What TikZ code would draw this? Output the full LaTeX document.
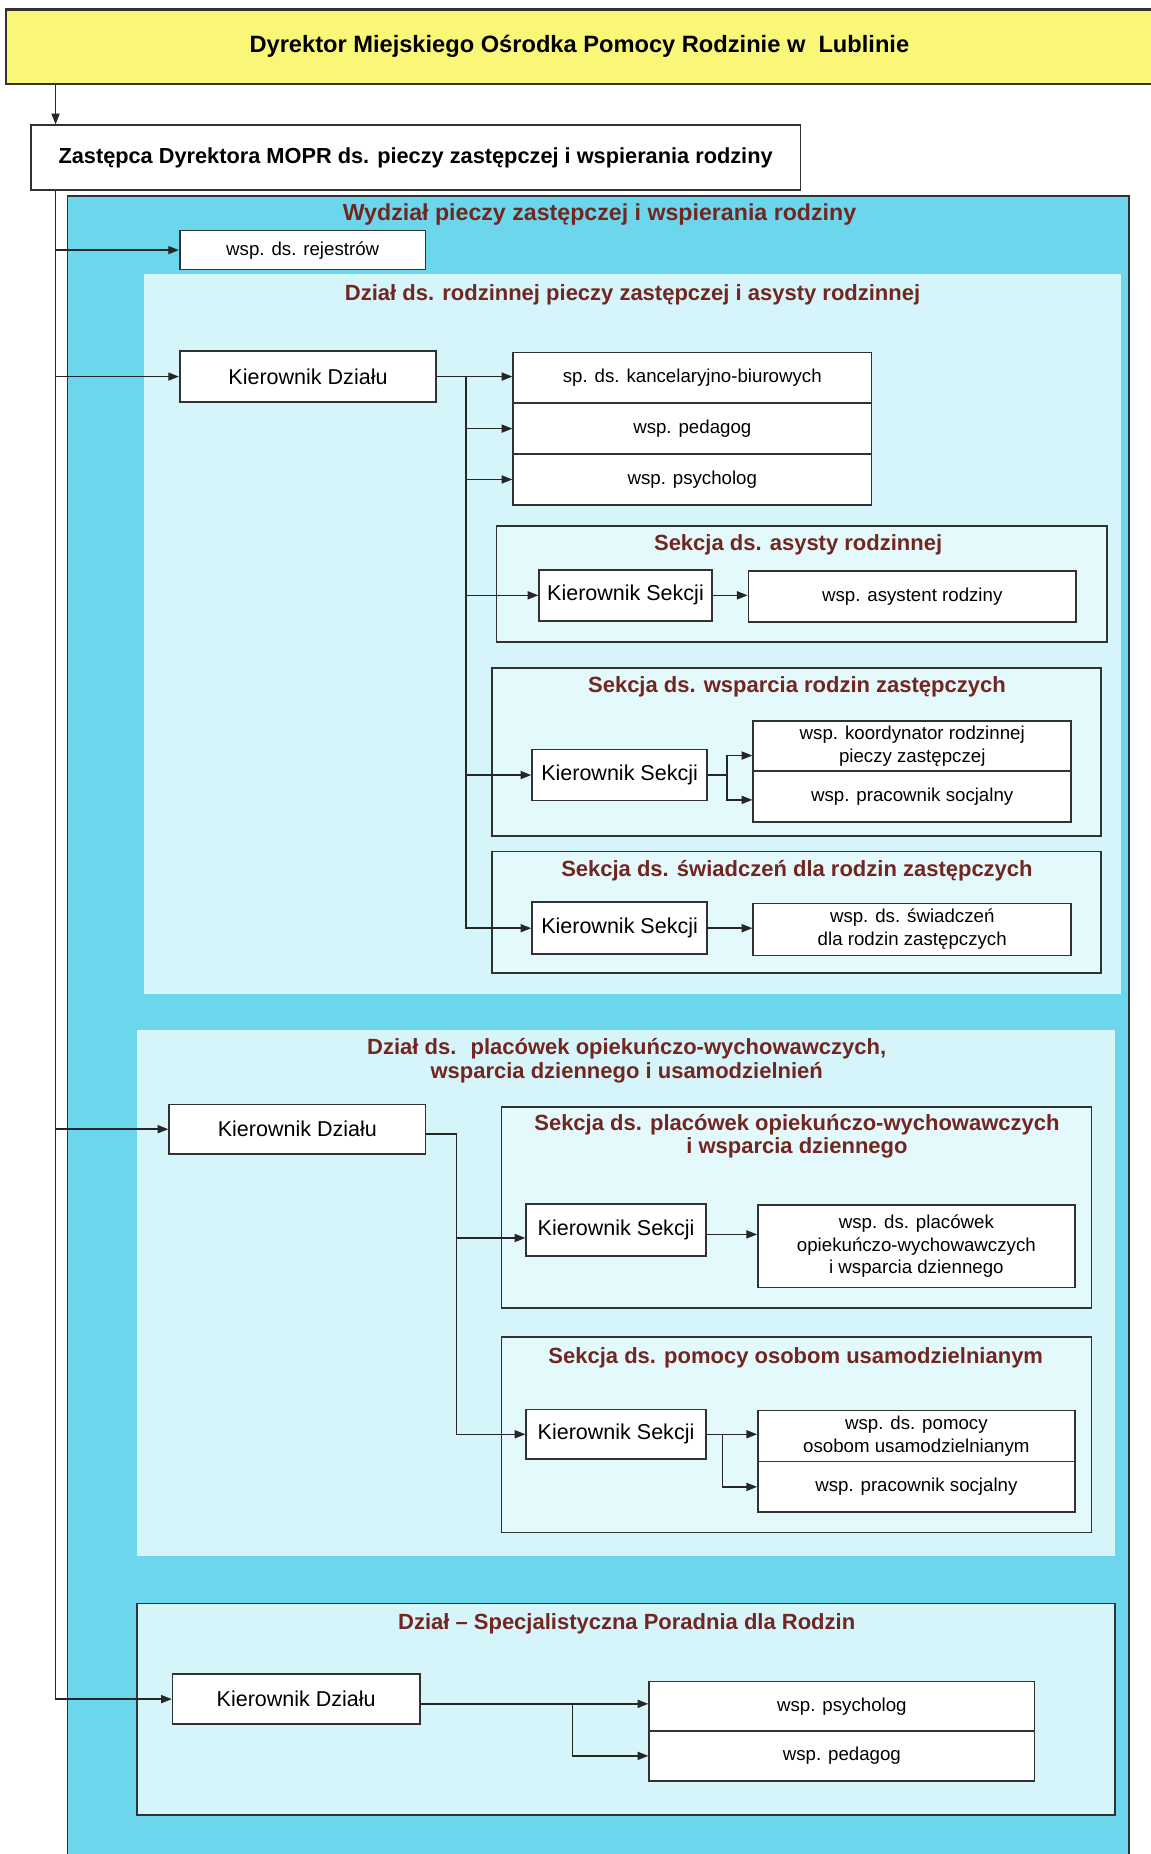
\documentclass[tikz,border=0pt]{standalone}
\usepackage{fontspec}
\setmainfont{Liberation Sans}
\usetikzlibrary{arrows.meta,fit}
\definecolor{ylw}{RGB}{250,246,120}
\definecolor{cyanbig}{RGB}{108,214,236}
\definecolor{cyanlight}{RGB}{214,245,250}
\definecolor{sectfill}{RGB}{228,249,252}
\definecolor{titlered}{RGB}{115,38,32}
\definecolor{edge}{RGB}{50,50,50}
\tikzset{
  box/.style={draw=edge, line width=0.7pt, fill=white, inner sep=0pt, align=center, text=black},
  emp/.style={box, font=\fontsize{7.9}{9.6}\selectfont},
  kier/.style={box, font=\fontsize{9.1}{11}\selectfont},
  sect/.style={draw=edge, line width=0.7pt, fill=sectfill, inner sep=0pt},
  dzial/.style={fill=cyanlight, inner sep=0pt},
  ttl/.style={text=titlered, font=\bfseries\fontsize{9.3}{9.9}\selectfont, align=center, inner sep=0pt},
  conn/.style={draw=black!85, line width=0.6pt},
  arr/.style={conn, -{Triangle[length=4.5pt,width=3.4pt]}},
  sz/.style 2 args={minimum width=#1, minimum height=#2}
}
\begin{document}
\begin{tikzpicture}[x=0.5pt,y=-0.5pt]
\useasboundingbox (0,0) rectangle (973,1568);
\fill[white] (0,0) rectangle (973,1568);
% top level
\node[box, fill=ylw, line width=0.9pt, font=\bfseries\fontsize{10}{12}\selectfont, sz={485pt}{31.5pt}] (yellow) at (490,39.5) {Dyrektor Miejskiego Ośrodka Pomocy Rodzinie w~ Lublinie};
\node[box, line width=0.8pt, font=\bfseries\fontsize{9.2}{11}\selectfont, sz={325.5pt}{27.5pt}] (zast) at (351.5,133.5) {Zastępca Dyrektora MOPR ds. pieczy zastępczej i wspierania rodziny};
% Wydzial
\node[draw=edge, line width=0.7pt, fill=cyanbig, inner sep=0pt, fit={(57,166) (955,1600)}] (wydzial) {};
\node[ttl, font=\bfseries\fontsize{9.8}{11}\selectfont] (wydzialtitle) at (507,181) {Wydział pieczy zastępczej i wspierania rodziny};
\node[emp, sz={104pt}{16.5pt}] (rej) at (256,211.5) {wsp. ds. rejestrów};
% Dzial 1
\node[dzial, fit={(122,232) (948,841)}] (dz1) {};
\node[ttl] (dz1title) at (535,249) {Dział ds. rodzinnej pieczy zastępczej i asysty rodzinnej};
\node[kier, sz={108.5pt}{21.5pt}] (kd1) at (260.5,318.5) {Kierownik Działu};
\node[emp, sz={151.5pt}{21.5pt}] (s1) at (585.5,319.5) {sp. ds. kancelaryjno-biurowych};
\node[emp, sz={151.5pt}{21.5pt}] (s2) at (585.5,362.5) {wsp. pedagog};
\node[emp, sz={151.5pt}{21.5pt}] (s3) at (585.5,405.5) {wsp. psycholog};
% Sekcja asysty
\node[sect, fit={(420,445) (936,543)}] (sa) {};
\node[ttl] (satitle) at (675,461) {Sekcja ds. asysty rodzinnej};
\node[kier, sz={73pt}{21.5pt}] (ks1) at (529,503.5) {Kierownik Sekcji};
\node[emp, sz={138.5pt}{21.5pt}] (asys) at (771.5,504.5) {wsp. asystent rodziny};
% Sekcja wsparcia
\node[sect, fit={(416,565) (931,707)}] (sw) {};
\node[ttl] (swtitle) at (674,581) {Sekcja ds. wsparcia rodzin zastępczych};
\node[kier, sz={74pt}{21.5pt}] (ks2) at (524,655.5) {Kierownik Sekcji};
\node[emp, sz={134.5pt}{21pt}] (koord) at (771.5,631) {wsp. koordynator rodzinnej\\pieczy zastępczej};
\node[emp, sz={134.5pt}{21.5pt}] (prac1) at (771.5,673.5) {wsp. pracownik socjalny};
% Sekcja swiadczen
\node[sect, fit={(416,720) (931,823)}] (ss) {};
\node[ttl] (sstitle) at (674,736) {Sekcja ds. świadczeń dla rodzin zastępczych};
\node[kier, sz={74pt}{22pt}] (ks3) at (524,785) {Kierownik Sekcji};
\node[emp, sz={134.5pt}{22pt}] (swiad) at (771.5,786) {wsp. ds. świadczeń\\dla rodzin zastępczych};
% Dzial 2
\node[dzial, fit={(116,871) (943,1316)}] (dz2) {};
\node[ttl] (dz2title) at (530,897) {Dział ds.~ placówek opiekuńczo-wychowawczych,\\wsparcia dziennego i usamodzielnień};
\node[kier, sz={108.5pt}{21pt}] (kd2) at (251.5,955) {Kierownik Działu};
\node[sect, fit={(424,936) (923,1106)}] (sp) {};
\node[ttl] (sptitle) at (674,961) {Sekcja ds. placówek opiekuńczo-wychowawczych\\i wsparcia dziennego};
\node[kier, sz={76pt}{22pt}] (ks4) at (521,1040) {Kierownik Sekcji};
\node[emp, sz={134pt}{35pt}] (plac) at (775,1054) {wsp. ds. placówek\\opiekuńczo-wychowawczych\\i wsparcia dziennego};
\node[sect, fit={(424,1131) (923,1296)}] (sh) {};
\node[ttl] (shtitle) at (673,1148) {Sekcja ds. pomocy osobom usamodzielnianym};
\node[kier, sz={76pt}{21pt}] (ks5) at (521,1213) {Kierownik Sekcji};
\node[emp, sz={134pt}{21.5pt}] (pom) at (775,1214.5) {wsp. ds. pomocy\\osobom usamodzielnianym};
\node[emp, sz={134pt}{21.5pt}] (prac2) at (775,1257.5) {wsp. pracownik socjalny};
% Dzial 3
\node[sect, fill=cyanlight, fit={(116,1356) (943,1535)}] (dz3) {};
\node[ttl] (dz3title) at (530,1373) {Dział – Specjalistyczna Poradnia dla Rodzin};
\node[kier, sz={104.5pt}{21pt}] (kd3) at (250.5,1437) {Kierownik Działu};
\node[emp, sz={163pt}{21pt}] (psy) at (712,1443) {wsp. psycholog};
\node[emp, sz={163pt}{21pt}] (ped) at (712,1485) {wsp. pedagog};
% connectors
\coordinate (trunk) at (47,0);
\coordinate (bus1) at (394,0);
\coordinate (bus2) at (386,0);
\coordinate (bus3) at (615,0);
\coordinate (bus4) at (611,0);
\coordinate (bus5) at (484,0);
\draw[arr] (yellow.south -| trunk) -- (zast.north -| trunk);
\draw[arr] (zast.south -| trunk) |- (kd3.west);
\draw[arr] (trunk |- rej.west) -- (rej.west);
\draw[arr] (trunk |- kd1.west) -- (kd1.west);
\draw[arr] (trunk |- kd2.west) -- (kd2.west);
% dzial 1
\draw[arr] (kd1.east) -- (kd1.east -| s1.west);
\draw[arr] (bus1 |- kd1.east) |- (ks3.west);
\draw[arr] (bus1 |- s2.west) -- (s2.west);
\draw[arr] (bus1 |- s3.west) -- (s3.west);
\draw[arr] (bus1 |- ks1.west) -- (ks1.west);
\draw[arr] (bus1 |- ks2.west) -- (ks2.west);
\draw[arr] (ks1.east) -- (ks1.east -| asys.west);
\draw[conn] (ks2.east) -- (bus3 |- ks2.east);
\coordinate (koordin) at ([yshift=-4pt]koord.west);
\coordinate (prac1in) at ([yshift=-1.5pt]prac1.west);
\draw[arr] (bus3 |- ks2.east) |- (koordin);
\draw[arr] (bus3 |- ks2.east) |- (prac1in);
\draw[arr] (ks3.east) -- (ks3.east -| swiad.west);
% dzial 2
\coordinate (kd2out) at ([yshift=-2pt]kd2.east);
\coordinate (ks4in) at ([yshift=-3.5pt]ks4.west);
\coordinate (ks4out) at ([yshift=-2pt]ks4.east);
\draw[arr] (kd2out) -| (bus2 |- ks5.west) -- (ks5.west);
\draw[arr] (bus2 |- ks4in) -- (ks4in);
\draw[arr] (ks4out) -- (ks4out -| plac.west);
\draw[arr] (ks5.east) -- (ks5.east -| pom.west);
\draw[arr] (bus4 |- ks5.east) |- (prac2.west);
% dzial 3
\coordinate (k3e) at ([yshift=-2pt]kd3.east);
\draw[arr] (k3e) -- (k3e -| psy.west);
\draw[arr] (bus5 |- k3e) |- (ped.west);
\end{tikzpicture}
\end{document}
